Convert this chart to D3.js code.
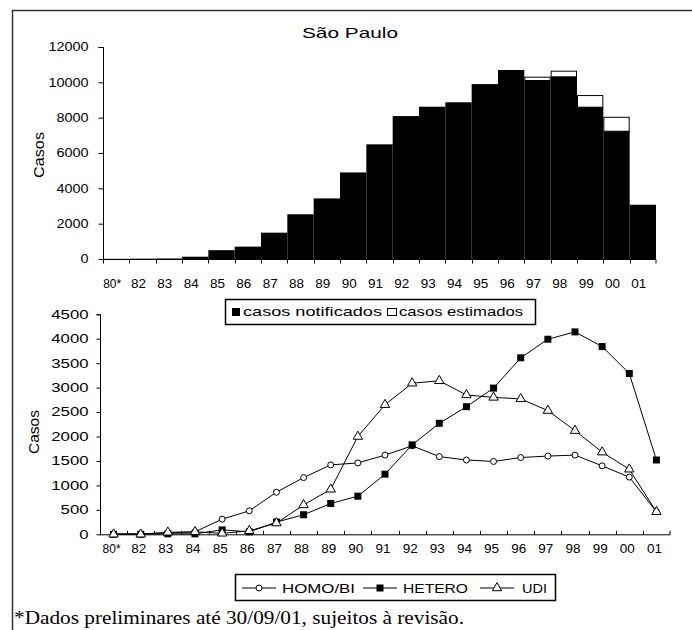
<!DOCTYPE html>
<html>
<head>
<meta charset="utf-8">
<script src="https://cdn.jsdelivr.net/npm/d3@7"></script>
<style>
  body { margin: 0; background: #fff; }
  text { font-family: "Liberation Sans", Arial, sans-serif; fill: #000; }
</style>
</head>
<body>
<script>
// categories (years)
var anos = ["80*", "82", "83", "84", "85", "86", "87", "88", "89", "90", "91",
            "92", "93", "94", "95", "96", "97", "98", "99", "00", "01"];

// top chart: notified + estimated cases
var notificados = [10, 20, 30, 130, 500, 700, 1490, 2530, 3430, 4900, 6490,
                   8090, 8620, 8870, 9900, 10700, 10130, 10340, 8620, 7260, 3070];
var estimados = [0, 0, 0, 0, 0, 0, 0, 0, 0, 0, 0,
                 0, 0, 0, 0, 0, 190, 320, 660, 790, 0];
var topTicks = [0, 2000, 4000, 6000, 8000, 10000, 12000];

// bottom chart: by exposure category
var homo = [10, 10, 30, 50, 310, 480, 860, 1160, 1420, 1460, 1620,
            1810, 1590, 1520, 1490, 1570, 1600, 1620, 1400, 1170, 460];
var hetero = [0, 0, 10, 10, 90, 50, 250, 400, 630, 780, 1230,
              1830, 2270, 2610, 2990, 3610, 3990, 4140, 3840, 3290, 1520];
var udi = [0, 0, 40, 50, 20, 70, 230, 600, 920, 2000, 2650,
           3090, 3140, 2850, 2800, 2770, 2530, 2120, 1680, 1330, 460];
var botTicks = [0, 500, 1000, 1500, 2000, 2500, 3000, 3500, 4000, 4500];

var svg = d3.select("body").append("svg")
    .attr("width", 692).attr("height", 630);

// the old bitmap font is wide; stretch the glyphs to match
function wide(sel, perChar) {
  sel.attr("lengthAdjust", "spacingAndGlyphs")
     .attr("textLength", function(d) {
       var t = d3.select(this).text();
       return t.replace("*", "").length * perChar + (t.indexOf("*") >= 0 ? 3 : 0);
     });
}

// outer frame (left + top)
svg.append("path")
    .attr("d", "M12.5,630 L12.5,10.5 L692,10.5")
    .attr("fill", "none").attr("stroke", "#333").attr("stroke-width", 1.5);

// ---------- top chart ----------
var x1 = d3.scaleBand().domain(anos).range([103, 656]).padding(0);
var y1 = d3.scaleLinear().domain([0, 12000]).range([259, 47]);

svg.append("text")
    .attr("x", 350).attr("y", 38)
    .attr("text-anchor", "middle")
    .style("font-size", "15px")
    .attr("lengthAdjust", "spacingAndGlyphs").attr("textLength", 96)
    .text("São Paulo");

var gTop = svg.append("g");

gTop.selectAll("rect.not")
    .data(anos)
    .join("rect")
    .attr("class", "not")
    .attr("x", function(d) { return x1(d); })
    .attr("width", x1.bandwidth())
    .attr("y", function(d, i) { return y1(notificados[i]); })
    .attr("height", function(d, i) { return y1(0) - y1(notificados[i]); })
    .attr("fill", "#000");

gTop.selectAll("rect.est")
    .data(anos.filter(function(d, i) { return estimados[i] > 0; }))
    .join("rect")
    .attr("class", "est")
    .attr("x", function(d) { return x1(d) + 0.5; })
    .attr("width", x1.bandwidth() - 1)
    .attr("y", function(d) { var i = anos.indexOf(d); return y1(notificados[i] + estimados[i]) + 0.5; })
    .attr("height", function(d) { var i = anos.indexOf(d); return y1(notificados[i]) - y1(notificados[i] + estimados[i]); })
    .attr("fill", "#fff").attr("stroke", "#000").attr("stroke-width", 1);

// y axis top
var yAx1 = svg.append("g")
    .attr("transform", "translate(103.5,0)")
    .call(d3.axisLeft(y1).tickValues(topTicks).tickSize(5).tickPadding(10).tickFormat(d3.format("d")));
yAx1.selectAll("text").style("font-size", "12px").call(wide, 8);
yAx1.select(".domain").attr("d", "M-5,47.5H0V259.5");

// x axis top (ticks on band boundaries)
var xAx1 = svg.append("g").attr("transform", "translate(0,259.5)");
xAx1.append("line").attr("x1", 103).attr("x2", 656).attr("stroke", "#000");
xAx1.selectAll("line.tk")
    .data(anos.concat(["end"]))
    .join("line")
    .attr("class", "tk")
    .attr("x1", function(d) { return d === "end" ? 656 : Math.round(x1(d)) + 0.5; })
    .attr("x2", function(d) { return d === "end" ? 656 : Math.round(x1(d)) + 0.5; })
    .attr("y1", 0).attr("y2", 4).attr("stroke", "#000");
xAx1.selectAll("text")
    .data(anos)
    .join("text")
    .attr("x", function(d) { return x1(d) + x1.bandwidth() / 2 - 4; })
    .attr("y", 28.5)
    .attr("text-anchor", "middle")
    .style("font-size", "13px")
    .text(function(d) { return d; })
    .call(wide, 7.5);

svg.append("text")
    .attr("transform", "translate(44,155) rotate(-90)")
    .attr("text-anchor", "middle")
    .style("font-size", "15px")
    .attr("lengthAdjust", "spacingAndGlyphs").attr("textLength", 46)
    .text("Casos");

// top legend
var lg1 = svg.append("g");
lg1.append("rect").attr("x", 225.5).attr("y", 299.5).attr("width", 310).attr("height", 25)
    .attr("fill", "#fff").attr("stroke", "#000").attr("stroke-width", 1.5);
lg1.append("rect").attr("x", 232).attr("y", 308).attr("width", 8).attr("height", 8).attr("fill", "#000");
lg1.append("text").attr("x", 243).attr("y", 316).style("font-size", "13px")
    .attr("lengthAdjust", "spacingAndGlyphs").attr("textLength", 139).text("casos notificados");
lg1.append("rect").attr("x", 387.5).attr("y", 308.5).attr("width", 9).attr("height", 7)
    .attr("fill", "#fff").attr("stroke", "#000");
lg1.append("text").attr("x", 399).attr("y", 316).style("font-size", "13px")
    .attr("lengthAdjust", "spacingAndGlyphs").attr("textLength", 124).text("casos estimados");

// ---------- bottom chart ----------
var x2 = d3.scaleBand().domain(anos).range([100, 670]).padding(0);
var y2 = d3.scaleLinear().domain([0, 4500]).range([534.3, 314.3]);
var cx = function(d) { return x2(d) + x2.bandwidth() / 2; };

var yAx2 = svg.append("g")
    .attr("transform", "translate(100.5,0)")
    .call(d3.axisLeft(y2).tickValues(botTicks).tickSize(4).tickPadding(8).tickFormat(d3.format("d")));
yAx2.selectAll("text").style("font-size", "12px").call(wide, 9.3);
yAx2.select(".domain").attr("d", "M-4,314.8H0V534.8");

var xAx2 = svg.append("g").attr("transform", "translate(0,534.8)");
xAx2.append("line").attr("x1", 100).attr("x2", 670).attr("stroke", "#000");
xAx2.selectAll("line.tk")
    .data(anos.concat(["end"]))
    .join("line")
    .attr("class", "tk")
    .attr("x1", function(d) { return d === "end" ? 670 : Math.round(x2(d)) + 0.5; })
    .attr("x2", function(d) { return d === "end" ? 670 : Math.round(x2(d)) + 0.5; })
    .attr("y1", -4).attr("y2", 0).attr("stroke", "#000");
xAx2.selectAll("text")
    .data(anos)
    .join("text")
    .attr("x", function(d) { return cx(d) - 2; })
    .attr("y", 18)
    .attr("text-anchor", "middle")
    .style("font-size", "12px")
    .text(function(d) { return d; })
    .call(wide, 7.5);

svg.append("text")
    .attr("transform", "translate(39,432) rotate(-90)")
    .attr("text-anchor", "middle")
    .style("font-size", "14px")
    .attr("lengthAdjust", "spacingAndGlyphs").attr("textLength", 44)
    .text("Casos");

var line = d3.line()
    .x(function(d, i) { return cx(anos[i]); })
    .y(function(d) { return y2(d); });

var series = [
  { name: "HOMO/BI", values: homo, shape: "circle" },
  { name: "HETERO", values: hetero, shape: "square" },
  { name: "UDI", values: udi, shape: "triangle" }
];

function marker(g, shape, x, y) {
  if (shape === "circle") {
    g.append("circle").attr("cx", x).attr("cy", y).attr("r", 3)
      .attr("fill", "#fff").attr("stroke", "#000");
  } else if (shape === "square") {
    g.append("rect").attr("x", x - 3.5).attr("y", y - 3.5).attr("width", 7).attr("height", 7)
      .attr("fill", "#000");
  } else {
    g.append("path").attr("d", d3.symbol().type(d3.symbolTriangle).size(38)())
      .attr("transform", "translate(" + x + "," + y + ")")
      .attr("fill", "#fff").attr("stroke", "#000");
  }
}

var gBot = svg.append("g");
series.forEach(function(s) {
  gBot.append("path")
      .datum(s.values)
      .attr("d", line)
      .attr("fill", "none").attr("stroke", "#000").attr("stroke-width", 1);
});
series.forEach(function(s) {
  var g = gBot.append("g");
  s.values.forEach(function(v, i) { marker(g, s.shape, cx(anos[i]), y2(v)); });
});

// bottom legend
var lg2 = svg.append("g");
lg2.append("rect").attr("x", 235.5).attr("y", 574.5).attr("width", 320).attr("height", 26)
    .attr("fill", "#fff").attr("stroke", "#000").attr("stroke-width", 1.5);
var lgItems = [
  { name: "HOMO/BI", shape: "circle", x: 242, tx: 282, w: 73 },
  { name: "HETERO", shape: "square", x: 363, tx: 403, w: 65 },
  { name: "UDI", shape: "triangle", x: 480, tx: 522, w: 25 }
];
lgItems.forEach(function(it) {
  lg2.append("line").attr("x1", it.x).attr("x2", it.x + 34).attr("y1", 588).attr("y2", 588)
      .attr("stroke", "#000");
  marker(lg2, it.shape, it.x + 17, 588);
  lg2.append("text").attr("x", it.tx).attr("y", 592.5).style("font-size", "13px")
      .attr("lengthAdjust", "spacingAndGlyphs").attr("textLength", it.w).text(it.name);
});

// footnote
svg.append("text")
    .attr("x", 14).attr("y", 624)
    .style("font-family", "'Liberation Serif', 'DejaVu Serif', serif")
    .style("font-size", "19px")
    .attr("lengthAdjust", "spacingAndGlyphs")
    .attr("textLength", 450)
    .text("*Dados preliminares até 30/09/01, sujeitos à revisão.");
</script>
</body>
</html>
